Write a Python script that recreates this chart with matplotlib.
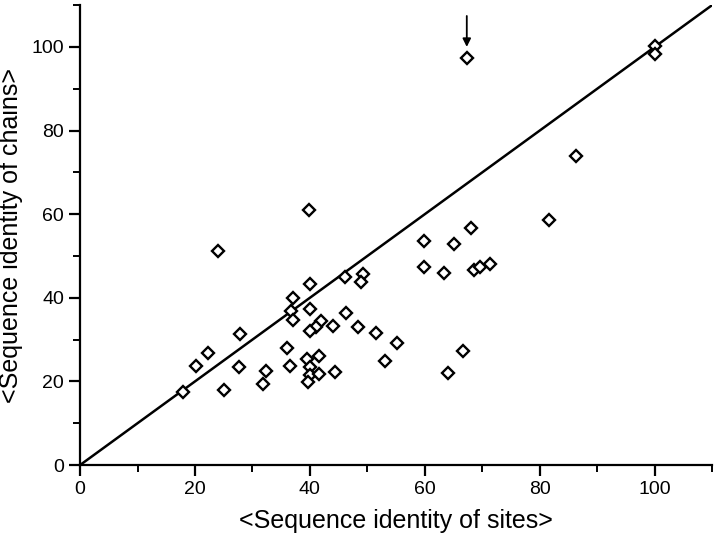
import matplotlib.pyplot as plt
from matplotlib.ticker import MultipleLocator

plt.rcParams['font.family'] = ['Liberation Sans', 'DejaVu Sans']

# <Sequence identity of sites>, <Sequence identity of chains>
sites = [17.9, 25.1, 20.1, 22.2, 24.0, 27.9, 27.6, 32.3, 31.9,
         40.0, 37.1, 36.7, 37.1, 40.0, 46.1, 49.3, 48.9,
         59.8, 63.4, 68.6, 69.6, 71.4,
         42.0, 41.0, 40.1, 44.0, 46.3, 48.3, 51.5, 55.2, 53.0,
         66.6, 64.1, 36.0, 36.5, 39.5, 41.5, 40.0, 40.0, 39.7, 41.6, 44.4,
         39.8, 67.3, 100.0, 100.0, 86.3, 81.6, 68.1, 59.8, 65.1]
chains = [17.5, 17.9, 23.8, 26.9, 51.2, 31.3, 23.5, 22.5, 19.3,
          43.2, 40.0, 36.8, 34.7, 37.4, 45.0, 45.7, 43.7,
          47.4, 45.9, 46.7, 47.4, 48.1,
          34.4, 33.1, 32.1, 33.3, 36.4, 32.9, 31.5, 29.1, 24.9,
          27.3, 22.1, 27.9, 23.8, 25.3, 26.1, 23.4, 21.5, 19.8, 21.7, 22.2,
          61.0, 97.4, 100.1, 98.3, 73.8, 58.6, 56.8, 53.7, 52.8]

diag = [0, 110]
marked = (67.3, 97.4)

fig = plt.figure(figsize=(7.15, 5.43), dpi=100)
ax = fig.add_axes([0.112, 0.1436, 0.884, 0.847])

ax.plot(diag, diag, color='black', lw=1.8)
ax.plot(sites, chains, 'D', ms=6.4, mfc='white', mec='black', mew=1.7, ls='none')

ax.annotate('', xy=(marked[0], marked[1] + 2.6), xytext=(marked[0], marked[1] + 10),
            arrowprops=dict(arrowstyle='-|>', color='black', lw=1.3,
                            mutation_scale=12, shrinkA=0, shrinkB=0))

ax.set_xlim(0, 110)
ax.set_ylim(0, 110)
ax.xaxis.set_major_locator(MultipleLocator(20))
ax.xaxis.set_minor_locator(MultipleLocator(10))
ax.yaxis.set_major_locator(MultipleLocator(20))
ax.yaxis.set_minor_locator(MultipleLocator(10))
ax.spines['top'].set_visible(False)
ax.spines['right'].set_visible(False)
for s in ['left', 'bottom']:
    ax.spines[s].set_linewidth(1.6)
ax.tick_params(which='major', direction='out', length=8, width=1.6, labelsize=14)
ax.tick_params(which='minor', direction='out', length=5, width=1.4)

ax.set_xlabel('<Sequence identity of sites>', fontsize=18, labelpad=8)
ax.set_ylabel('<Sequence identity of chains>', fontsize=18, labelpad=6)

fig.savefig('out.png', dpi=100)
